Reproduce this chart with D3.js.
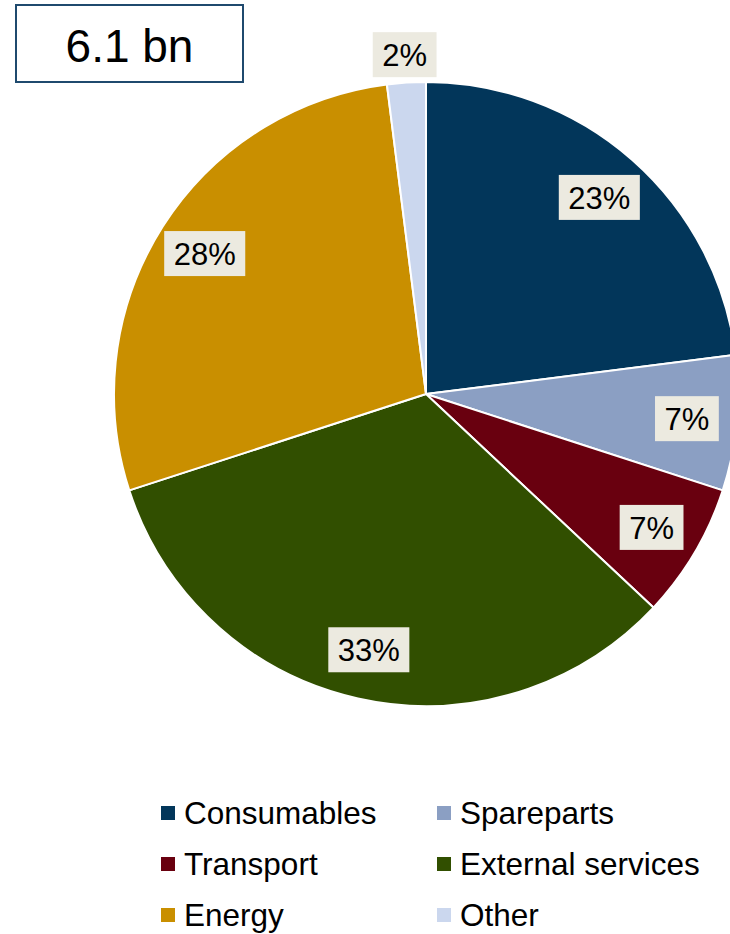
<!DOCTYPE html>
<html>
<head>
<meta charset="utf-8">
<script src="https://cdn.jsdelivr.net/npm/d3@7"></script>
<style>
  html, body { margin: 0; padding: 0; background: #fff; }
  svg { display: block; font-family: "Liberation Sans", Arial, sans-serif; }
</style>
</head>
<body>
<svg id="chart" width="730" height="934"></svg>
<script>
// Cost breakdown (share of total, %)
const categories = ["Consumables", "Spareparts", "Transport", "External services", "Energy", "Other"];
const shares = [23, 7, 7, 33, 28, 2];
const colors = ["#02365A", "#8B9FC3", "#69000F", "#314F00", "#C98F00", "#CBD7EE"];
const totalLabel = "6.1 bn";

const svg = d3.select("#chart");
const cx = 426, cy = 394, radius = 312;

const data = categories.map((c, i) => ({ name: c, value: shares[i], color: colors[i] }));

const pie = d3.pie().value(d => d.value).sort(null);
const arc = d3.arc().innerRadius(0).outerRadius(radius);
const labelArc = d3.arc().innerRadius(radius * 0.84).outerRadius(radius * 0.84);
const outerLabelArc = d3.arc().innerRadius(radius + 28).outerRadius(radius + 28);

const g = svg.append("g").attr("transform", `translate(${cx},${cy})`);
const arcs = pie(data);

g.selectAll("path.slice")
  .data(arcs)
  .join("path")
  .attr("class", "slice")
  .attr("d", arc)
  .attr("fill", d => d.data.color)
  .attr("stroke", "#fff")
  .attr("stroke-width", 2)
  .attr("stroke-linejoin", "round");

// Percentage labels on light boxes; small slices get their label outside
const lab = g.selectAll("g.lab")
  .data(arcs)
  .join("g")
  .attr("class", "lab")
  .attr("transform", d => {
    const p = (d.data.value < 5 ? outerLabelArc : labelArc).centroid(d);
    return `translate(${p[0]},${p[1]})`;
  });

lab.each(function(d) {
  const sel = d3.select(this);
  const txt = sel.append("text")
    .attr("text-anchor", "middle")
    .attr("dy", "0.36em")
    .attr("font-size", 31)
    .attr("fill", "#000")
    .text(d.data.value + "%");
  const w = txt.node().getComputedTextLength();
  sel.insert("rect", "text")
    .attr("x", -w / 2 - 9.5)
    .attr("y", -22.5)
    .attr("width", w + 19)
    .attr("height", 45)
    .attr("fill", "#ECEAE0");
});

// Total box
svg.append("rect")
  .attr("x", 16).attr("y", 5)
  .attr("width", 227).attr("height", 77)
  .attr("fill", "#fff")
  .attr("stroke", "#1F4A6E")
  .attr("stroke-width", 2);
svg.append("text")
  .attr("x", 129.5).attr("y", 62)
  .attr("text-anchor", "middle")
  .attr("font-size", 46)
  .attr("fill", "#000")
  .text(totalLabel);

// Legend, two columns
const legX = [161, 437];
const legY0 = 813, legDY = 51;
const leg = svg.append("g").selectAll("g")
  .data(data)
  .join("g")
  .attr("transform", (d, i) => `translate(${legX[i % 2]},${legY0 + Math.floor(i / 2) * legDY})`);
leg.append("rect")
  .attr("x", 0).attr("y", -7)
  .attr("width", 14).attr("height", 14)
  .attr("fill", d => d.color);
leg.append("text")
  .attr("x", 23).attr("y", 11)
  .attr("font-size", 31.5)
  .attr("fill", "#000")
  .text(d => d.name);
</script>
</body>
</html>
